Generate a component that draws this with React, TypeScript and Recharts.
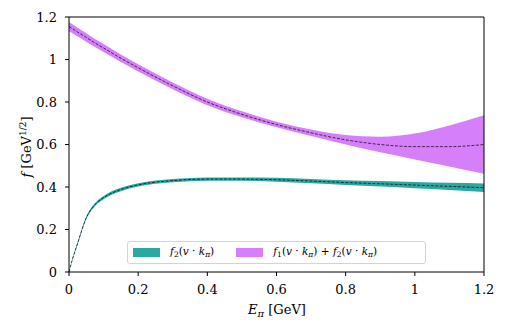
import { ComposedChart, Area, Line, XAxis, YAxis, ReferenceLine } from 'recharts';

// E_pi in GeV
const energy = [0, 0.01, 0.025, 0.05, 0.075, 0.1, 0.15, 0.2, 0.3, 0.4, 0.5, 0.6, 0.7, 0.8, 0.9, 1.0, 1.1, 1.2];

// f1 + f2
const sumCenter = [1.155, 1.145, 1.129, 1.104, 1.078, 1.054, 1.006, 0.961, 0.876, 0.8, 0.742, 0.694, 0.655, 0.622, 0.6, 0.59, 0.59, 0.6];
const sumLow = [1.133, 1.124, 1.108, 1.084, 1.059, 1.035, 0.988, 0.944, 0.86, 0.785, 0.728, 0.681, 0.64, 0.6, 0.563, 0.53, 0.497, 0.462];
const sumHigh = [1.177, 1.166, 1.15, 1.124, 1.097, 1.073, 1.024, 0.978, 0.892, 0.815, 0.756, 0.707, 0.671, 0.645, 0.637, 0.652, 0.69, 0.738];

// f2
const f2Center = [0, 0.06, 0.135, 0.255, 0.317, 0.35, 0.388, 0.41, 0.43, 0.437, 0.437, 0.434, 0.428, 0.421, 0.415, 0.409, 0.403, 0.397];
const f2Low = [0, 0.057, 0.13, 0.249, 0.31, 0.342, 0.38, 0.402, 0.422, 0.429, 0.429, 0.425, 0.418, 0.41, 0.402, 0.394, 0.386, 0.377];
const f2High = [0, 0.063, 0.14, 0.261, 0.324, 0.358, 0.396, 0.418, 0.438, 0.445, 0.445, 0.443, 0.438, 0.432, 0.428, 0.424, 0.42, 0.417];

const ticks = [0, 0.2, 0.4, 0.6, 0.8, 1, 1.2];

const data = energy.map((e, i) => ({
  e,
  sumBand: [sumLow[i], sumHigh[i]],
  sum: sumCenter[i],
  f2Band: [f2Low[i], f2High[i]],
  f2: f2Center[i],
}));

const TEAL = '#2ca8a3';
const PURPLE = '#d580fa';
const FONT = '"DejaVu Serif", serif';

const sub = { fontSize: '0.72em', verticalAlign: '-0.3em' };

function LegendBox() {
  const item = { display: 'flex', alignItems: 'center' };
  const patch = (c: string) => ({ width: 27, height: 9, background: c, marginRight: 10 });
  return (
    <div
      style={{
        position: 'absolute',
        left: 127,
        top: 241,
        display: 'flex',
        alignItems: 'center',
        width: 299,
        height: 23,
        border: '1px solid #d4d4d4',
        borderRadius: 3,
        background: 'rgba(255,255,255,0.85)',
        fontFamily: FONT,
        fontSize: 10.5,
        boxSizing: 'border-box',
        paddingLeft: 5,
        whiteSpace: 'nowrap',
      }}
    >
      <div style={{ ...item, marginRight: 22 }}>
        <div style={patch(TEAL)} />
        <span>
          <i>f</i><span style={sub}>2</span>(<i>v</i> · <i>k</i><span style={sub}><i>π</i></span>)
        </span>
      </div>
      <div style={item}>
        <div style={patch(PURPLE)} />
        <span>
          <i>f</i><span style={sub}>1</span>(<i>v</i> · <i>k</i><span style={sub}><i>π</i></span>) + <i>f</i>
          <span style={sub}>2</span>(<i>v</i> · <i>k</i><span style={sub}><i>π</i></span>)
        </span>
      </div>
    </div>
  );
}

export default function App() {
  return (
    <div style={{ position: 'absolute', left: 0, top: 0, width: 507, height: 333, background: '#fff', fontFamily: FONT }}>
      <ComposedChart width={507} height={333} data={data} margin={{ top: 17, right: 23, left: 0, bottom: 0 }} style={{ fontFamily: FONT }}>
        <XAxis
          dataKey="e"
          type="number"
          domain={[0, 1.2]}
          ticks={ticks}
          stroke="#000"
          tickSize={4}
          tickMargin={9}
          height={61}
          tick={{ fill: '#000', fontFamily: FONT, fontSize: 13 }}
          label={{
            content: () => (
              <text x={277} y={314} textAnchor="middle" fontFamily={FONT} fontSize={13} fill="#000">
                <tspan fontStyle="italic">E</tspan>
                <tspan fontStyle="italic" fontSize={10} dy={3}>π</tspan>
                <tspan dy={-3}> [GeV]</tspan>
              </text>
            ),
          }}
        />
        <YAxis
          type="number"
          domain={[0, 1.2]}
          ticks={ticks}
          stroke="#000"
          tickSize={4}
          tickMargin={8}
          width={69}
          tick={{ fill: '#000', fontFamily: FONT, fontSize: 13 }}
          label={{
            content: () => (
              <text
                x={0}
                y={0}
                transform="translate(31,147) rotate(-90)"
                textAnchor="middle"
                fontFamily={FONT}
                fontSize={13}
                fill="#000"
              >
                <tspan fontStyle="italic">f</tspan>
                <tspan> [GeV</tspan>
                <tspan fontSize={9} dy={-5}>1/2</tspan>
                <tspan dy={5}>]</tspan>
              </text>
            ),
          }}
        />
        <ReferenceLine y={1.2} stroke="#000" />
        <ReferenceLine x={1.2} stroke="#000" />
        <Area type="monotone" dataKey="sumBand" stroke="none" fill={PURPLE} fillOpacity={1} isAnimationActive={false} />
        <Area type="monotone" dataKey="f2Band" stroke="none" fill={TEAL} fillOpacity={1} isAnimationActive={false} />
        <Line type="monotone" dataKey="sum" stroke="#000" strokeWidth={0.7} strokeDasharray="3 1.5" dot={false} isAnimationActive={false} />
        <Line type="monotone" dataKey="f2" stroke="#000" strokeWidth={0.7} strokeDasharray="3 1.5" dot={false} isAnimationActive={false} />
      </ComposedChart>
      <LegendBox />
    </div>
  );
}
